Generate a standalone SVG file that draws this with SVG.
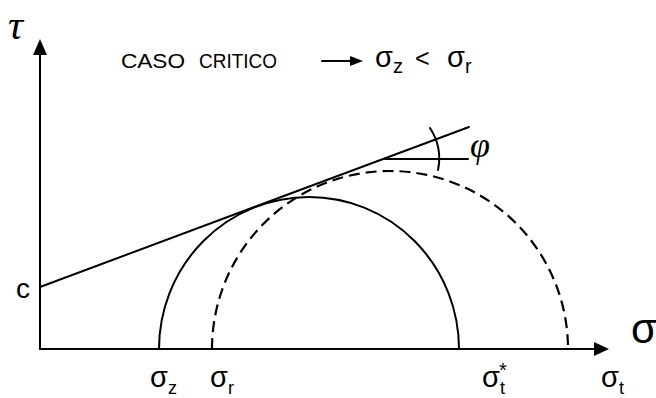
<svg xmlns="http://www.w3.org/2000/svg" width="656" height="398" viewBox="0 0 656 398">
<style>
.ln{fill:none;stroke:#000;stroke-width:2;stroke-linecap:round}
.ds{fill:none;stroke:#000;stroke-width:2.2;stroke-dasharray:11 6}
.sans{font-family:"Liberation Sans","DejaVu Sans",sans-serif;fill:#000}
.ital{font-family:"Liberation Serif","DejaVu Serif",serif;font-style:italic;fill:#000}
</style>
<rect width="656" height="398" fill="#fff"/>
<g id="connectors">
<line class="ln" x1="40" y1="349" x2="40" y2="52"/>
<polygon points="40,39 33,55 47,55" fill="#000"/>
<line class="ln" x1="40" y1="349" x2="596" y2="349"/>
<polygon points="609,349 594,342 594,356" fill="#000"/>
<line class="ln" x1="322" y1="61" x2="352" y2="61" stroke-width="1.6"/>
<polygon points="363,61 350,56 350,66" fill="#000"/>
</g>
<g id="envelope">
<line class="ln" x1="40" y1="287" x2="469" y2="127"/>
<line class="ln" x1="385" y1="159" x2="468" y2="159" stroke-width="1.6"/>
<path class="ln" d="M430,128 A56,56 0 0 1 438,170"/>
</g>
<g id="circle-solid">
<path class="ln" d="M159,349 A150,152 0 0 1 459,349"/>
</g>
<g id="circle-dashed">
<path class="ds" d="M212,349 A178,178 0 0 1 568,349"/>
</g>
<g id="labels">
<text class="ital" x="8" y="39" font-size="42">τ</text>
<text class="sans" x="121" y="68" font-size="21" textLength="64" lengthAdjust="spacingAndGlyphs">CASO</text>
<text class="sans" x="199" y="68" font-size="21" textLength="78" lengthAdjust="spacingAndGlyphs">CRITICO</text>
<text class="sans" x="375" y="67" font-size="29">σ<tspan font-size="20" dy="6">z</tspan></text>
<text class="sans" x="415" y="67" font-size="25">&lt;</text>
<text class="sans" x="447" y="67" font-size="29">σ<tspan font-size="20" dy="6">r</tspan></text>
<text class="ital" x="470" y="157" font-size="36">φ</text>
<text class="sans" x="16" y="298" font-size="28">c</text>
<text class="sans" x="631" y="343" font-size="42">σ</text>
<text class="sans" x="150" y="387" font-size="29">σ<tspan font-size="18" dy="7">z</tspan></text>
<text class="sans" x="210" y="387" font-size="29">σ<tspan font-size="18" dy="7">r</tspan></text>
<text class="sans" x="482" y="387" font-size="29">σ<tspan font-size="18" dy="7">t</tspan><tspan font-size="20" dx="-6" dy="-17">*</tspan></text>
<text class="sans" x="601" y="387" font-size="29">σ<tspan font-size="18" dy="7">t</tspan></text>
</g>
</svg>
